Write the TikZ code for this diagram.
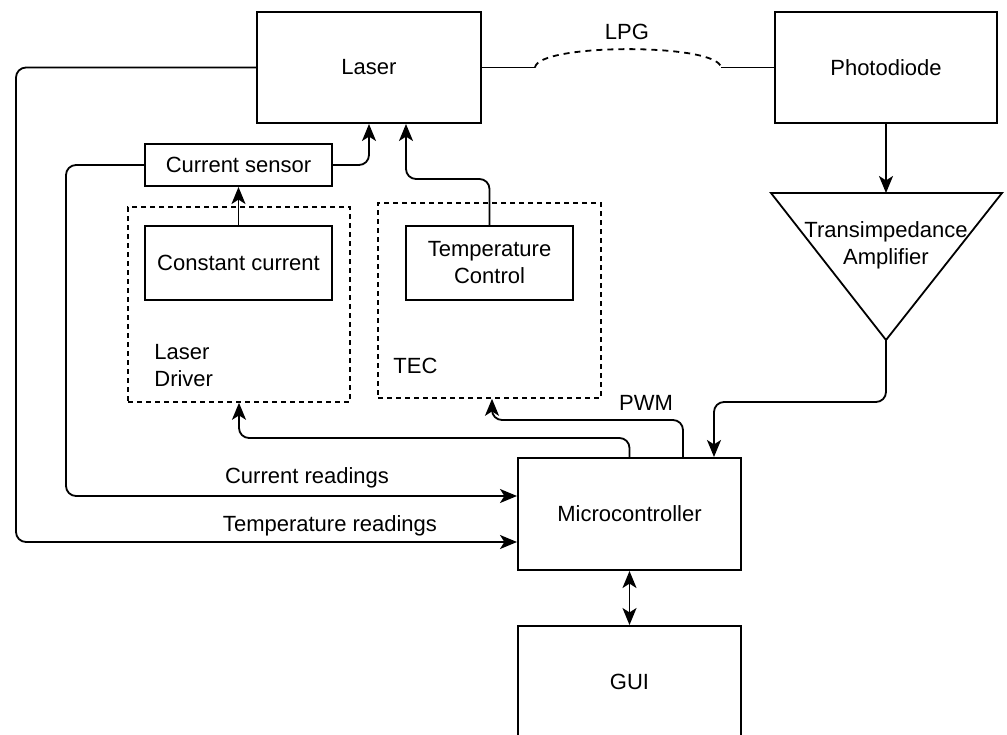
\documentclass[tikz,border=0pt]{standalone}
\usepackage{fontspec}
\setmainfont{Liberation Sans}
\usetikzlibrary{arrows.meta,positioning}

\begin{document}
\begin{tikzpicture}[x=0.5pt, y=-0.5pt,
  >={Stealth[length=8.5pt,width=7pt,inset=2.2pt]},
  box/.style={draw, line width=1pt, inner sep=0pt, align=center},
  dashbox/.style={draw, line width=0.8pt, dash pattern=on 2.5pt off 2pt, inner sep=0pt},
  conn/.style={line width=0.9pt, rounded corners=5pt},
  arr/.style={conn, ->},
  font=\fontsize{11}{13.5}\selectfont]

\clip (0,0) rectangle (1007,734);

% blocks
\node[box, minimum width=112pt, minimum height=55.5pt] (laser) at (369,67.5) {Laser};
\node[box, minimum width=111pt, minimum height=55.5pt] (photo) at (886,67.5) {Photodiode};
\node[box, minimum width=93.5pt, minimum height=21pt] (sensor) at (238.5,165) {Current sensor};
\node[dashbox, minimum width=111pt, minimum height=97.5pt] (driver) at (239,304.5) {};
\node[dashbox, minimum width=111.5pt, minimum height=97.5pt] (tec) at (489.5,300.5) {};
\node[box, minimum width=93.5pt, minimum height=37pt] (const) at (238.5,263) {Constant current};
\node[box, minimum width=83.5pt, minimum height=37pt] (tctrl) at (489.5,263) {Temperature\\Control};
\node[box, minimum width=111.5pt, minimum height=56pt] (mcu) at (629.5,514) {Microcontroller};
\node[box, minimum width=111.5pt, minimum height=56pt] (gui) at (629.5,682) {GUI};
\node[anchor=west, align=left, inner sep=0pt] (driverlbl) at (154,366) {Laser\\Driver};
\node[anchor=west, inner sep=0pt] (teclbl) at (393,366) {TEC};

% transimpedance amplifier
\draw[line width=0.9pt] (771,193) -- (1002,193) -- (886,340) -- cycle;
\coordinate (tiatop) at (886,193);
\coordinate (tiaout) at (886,340);
\node[align=center, inner sep=0pt] (tia) at (886,245.5) {Transimpedance\\Amplifier};

% fibre (LPG)
\coordinate (lpga) at (535,67.5);
\coordinate (lpgb) at (721,67.5);
\draw[conn] (laser.east) -- (lpga);
\draw[line width=0.9pt, dash pattern=on 3pt off 2.5pt] (lpga) .. controls (538,43) and (718,43) .. (lpgb);
\draw[conn] (lpgb) -- (photo.west);
\node (lpg) at (627,32) {LPG};

% connectors
\draw[arr] (const.north) -- (sensor.south);
\draw[arr] (sensor.east) -| (laser.south);
\draw[arr] (tctrl.north) -- ++(0,-46) -| ([xshift=18.5pt]laser.south);
\draw[arr] (photo.south) -- (tiatop);
\draw[arr] (tiaout) -- (886,402) -| ([xshift=42.25pt]mcu.north);
\draw[arr] (mcu.north) -- ++(0,-19) -| (driver.south);
\draw[arr] ([xshift=26.75pt]mcu.north) -- ++(0,-37) -| ([xshift=1.25pt]tec.south);
\node (pwm) at (646,403) {PWM};
\draw[arr] (sensor.west) -- (66,165) -- (66,496) -- (mcu.west |- 0,496);
\node (curr) at (307,478) {Current readings};
\draw[arr] (laser.west) -- (16,67.5) -- (16,542) -- (mcu.west |- 0,542);
\node (temp) at (330,526) {Temperature readings};
\draw[conn, <->] (mcu.south) -- (gui.north);
\end{tikzpicture}
\end{document}
